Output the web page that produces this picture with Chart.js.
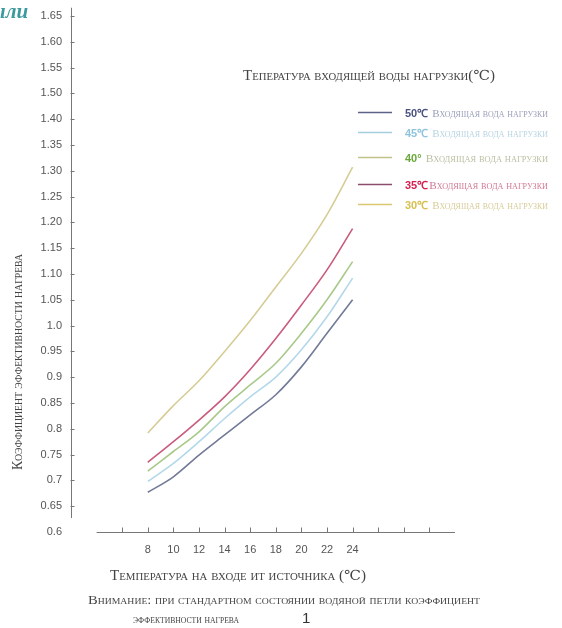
<!DOCTYPE html>
<html>
<head>
<meta charset="utf-8">
<script src="https://cdn.jsdelivr.net/npm/chart.js@4"></script>
<style>
  html, body { margin: 0; padding: 0; background: #fff; }
  #wrap { width: 562px; height: 628px; }
</style>
</head>
<body>
<div id="wrap"><canvas id="heatChart" width="562" height="628"></canvas></div>
<script>
// source water inlet temperature (℃)
const xValues = [8, 10, 12, 14, 16, 18, 20, 22, 24];
const xTickValues = [6, 8, 10, 12, 14, 16, 18, 20, 22, 24, 26, 28, 30];
const xTickLabels = ['8', '10', '12', '14', '16', '18', '20', '22', '24'];

// y tick labels as printed (note: 1.45 is missing in the original, so labels above 1.40 are shifted)
const yTickLabels = ['0.6', '0.65', '0.7', '0.75', '0.8', '0.85', '0.9', '0.95', '1.0', '1.05',
  '1.10', '1.15', '1.20', '1.25', '1.30', '1.35', '1.40', '1.50', '1.55', '1.60', '1.65'];

// load inlet water temperature series
const seriesTemps = ['50℃', '45℃', '40°', '35℃', '30℃'];
const seriesSuffix = 'Входящая вода нагрузки';
const load50 = [0.677, 0.707, 0.749, 0.788, 0.827, 0.866, 0.920, 0.985, 1.050];
const load45 = [0.698, 0.733, 0.775, 0.820, 0.862, 0.900, 0.953, 1.017, 1.092];
const load40 = [0.718, 0.756, 0.794, 0.843, 0.885, 0.927, 0.985, 1.050, 1.124];
const load35 = [0.735, 0.775, 0.817, 0.862, 0.915, 0.975, 1.040, 1.108, 1.188];
const load30 = [0.792, 0.845, 0.893, 0.950, 1.010, 1.075, 1.140, 1.215, 1.307];

const lineColors = ['#727a98', '#b4d8ea', '#a9c98a', '#c95c7c', '#d6cc96'];
const legendLineColors = ['#5c6288', '#a6cfe0', '#c2c48a', '#8c4c6c', '#dcc870'];
const legendTempColors = ['#4a5280', '#8fc4dc', '#6aa83a', '#d6204e', '#d8c050'];
const legendTextColors = ['#9a9eb8', '#b6d4e2', '#b8bfa0', '#d07890', '#d8cc98'];

const allSeries = [load50, load45, load40, load35, load30];

const datasets = allSeries.map((s, i) => ({
  label: seriesTemps[i] + ' ' + seriesSuffix,
  data: s.map((v, j) => ({ x: xValues[j], y: v })),
  borderColor: lineColors[i],
  backgroundColor: lineColors[i],
  borderWidth: 1.6,
  pointRadius: 0,
  cubicInterpolationMode: 'monotone',
  fill: false
}));

const SERIF = "'Liberation Serif', 'DejaVu Serif', serif";

// small-caps text stretched to the width it has in the original
function capsText(ctx, s, x, y, w, size, color) {
  ctx.save();
  ctx.font = size + 'px ' + SERIF;
  ctx.fontVariantCaps = 'small-caps';
  ctx.fillStyle = color;
  const m = ctx.measureText(s).width;
  ctx.translate(x, y);
  ctx.scale(w / m, 1);
  ctx.fillText(s, 0, 0);
  ctx.restore();
}

const axesPlugin = {
  id: 'axesPlugin',
  beforeDatasetsDraw(chart) {
    const { ctx, scales: { x, y } } = chart;
    ctx.save();
    ctx.strokeStyle = '#777';
    ctx.lineWidth = 1;
    // y axis line, stops short of the x axis like the original
    const ax = Math.round(x.getPixelForValue(2)) + 0.5;
    ctx.beginPath();
    ctx.moveTo(ax, y.getPixelForValue(1.616));
    ctx.lineTo(ax, y.getPixelForValue(0.627));
    ctx.stroke();
    y.ticks.forEach(t => {
      if (t.value < 0.64) return;
      const py = Math.round(y.getPixelForValue(t.value)) + 0.5;
      ctx.beginPath();
      ctx.moveTo(ax - 1, py);
      ctx.lineTo(ax + 3, py);
      ctx.stroke();
    });
    // x axis line from 4 to 32, ticks pointing up
    const by = Math.round(y.getPixelForValue(0.6)) + 0.5;
    ctx.beginPath();
    ctx.moveTo(x.getPixelForValue(4), by);
    ctx.lineTo(x.getPixelForValue(32), by);
    ctx.stroke();
    xTickValues.forEach(v => {
      const px = Math.round(x.getPixelForValue(v)) + 0.5;
      ctx.beginPath();
      ctx.moveTo(px, by);
      ctx.lineTo(px, by - 5);
      ctx.stroke();
    });
    ctx.restore();
  },
  afterDraw(chart) {
    const { ctx } = chart;
    ctx.save();
    ctx.textBaseline = 'alphabetic';
    ctx.textAlign = 'left';

    // corner logo fragment
    ctx.font = "bold italic 21px " + SERIF;
    ctx.fillStyle = '#3d9a9c';
    ctx.fillText('ıлu', 0, 18);

    // legend title
    capsText(ctx, 'Тепература входящей воды нагрузки(℃)', 243, 80, 252, 14, '#444');

    // legend
    const legendY = [112, 132, 157, 184, 204];
    chart.data.datasets.forEach((ds, i) => {
      const ly = legendY[i] + 0.5;
      ctx.strokeStyle = legendLineColors[i];
      ctx.lineWidth = 1.6;
      ctx.beginPath();
      ctx.moveTo(358, ly);
      ctx.lineTo(392, ly);
      ctx.stroke();
      ctx.font = "bold 11px 'Liberation Sans', Arial, sans-serif";
      ctx.fillStyle = legendTempColors[i];
      ctx.fillText(seriesTemps[i], 405, ly + 4);
      const tw = ctx.measureText(seriesTemps[i]).width;
      const sx = 405 + tw + (i === 3 ? 1 : 4);
      capsText(ctx, seriesSuffix, sx, ly + 4, 548 - sx, 11, legendTextColors[i]);
    });

    // y axis title (rotated)
    ctx.save();
    ctx.translate(22, 470);
    ctx.rotate(-Math.PI / 2);
    capsText(ctx, 'Коэффициент эффективности нагрева', 0, 0, 216, 14, '#444');
    ctx.restore();

    // x axis title
    capsText(ctx, 'Температура на входе ит источника (℃)', 110, 580, 256, 14, '#444');

    // note
    capsText(ctx, 'Внимание: при стандартном состоянии водяной петли коэффициент', 88, 604, 392, 12, '#444');
    capsText(ctx, 'эффективности нагрева', 133, 623, 106, 11, '#444');
    ctx.font = "15px 'Liberation Sans', Arial, sans-serif";
    ctx.fillStyle = '#333';
    ctx.fillText('1', 302, 623);
    ctx.restore();
  }
};

const config = {
  type: 'line',
  data: { datasets: datasets },
  options: {
    responsive: false,
    animation: false,
    layout: { padding: { top: 16, right: 107, left: 0, bottom: 0 } },
    plugins: {
      legend: { display: false },
      tooltip: { enabled: false }
    },
    scales: {
      x: {
        type: 'linear',
        min: 2,
        max: 32,
        grid: { display: false, drawTicks: false },
        border: { display: false },
        afterBuildTicks: axis => { axis.ticks = xValues.map(v => ({ value: v })); },
        afterFit: axis => { axis.height = 96; },
        ticks: {
          padding: 11,
          autoSkip: false,
          maxRotation: 0,
          color: '#555',
          font: { family: "'Liberation Sans', Arial, sans-serif", size: 11 },
          callback: (v, i) => xTickLabels[i]
        }
      },
      y: {
        type: 'linear',
        min: 0.6,
        max: 1.6,
        grid: { display: false, drawTicks: false },
        border: { display: false },
        afterBuildTicks: axis => {
          axis.ticks = yTickLabels.map((l, i) => ({ value: 0.6 + i * 0.05 }));
        },
        afterFit: axis => { axis.width = 71; },
        ticks: {
          padding: 9,
          autoSkip: false,
          color: '#555',
          font: { family: "'Liberation Sans', Arial, sans-serif", size: 11 },
          callback: (v, i) => yTickLabels[i]
        }
      }
    }
  },
  plugins: [axesPlugin]
};

new Chart(document.getElementById('heatChart').getContext('2d'), config);
</script>
</body>
</html>
